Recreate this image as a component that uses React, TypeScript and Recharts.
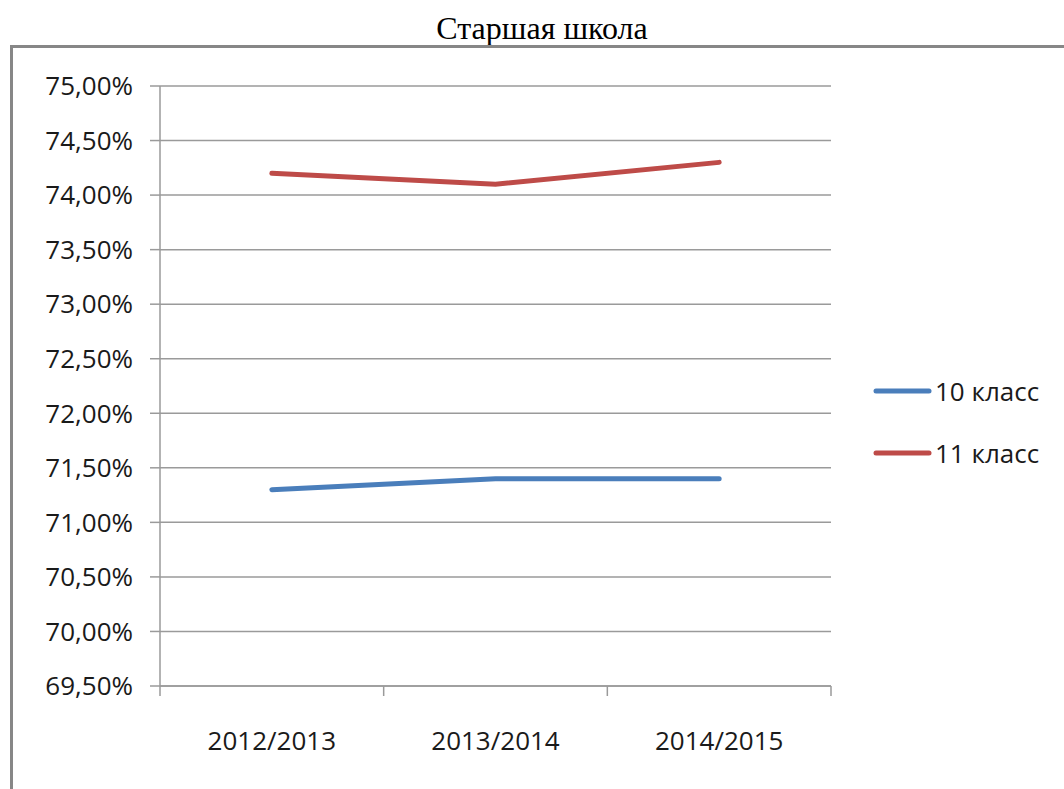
import { LineChart, Line, XAxis, YAxis, CartesianGrid, Legend } from "recharts";

const years = ["2012/2013", "2013/2014", "2014/2015"];
const grade10 = [71.3, 71.4, 71.4];
const grade11 = [74.2, 74.1, 74.3];
const yTicks = [69.5, 70, 70.5, 71, 71.5, 72, 72.5, 73, 73.5, 74, 74.5, 75];
const seriesNames = ["10 класс", "11 класс"];

const data = years.map((year, i) => ({
  year,
  g10: grade10[i],
  g11: grade11[i],
}));

const FONT = "'Open Sans', sans-serif";
const GRID = "#9a9a9a";
const BLUE = "#4a7ebb";
const RED = "#be4b48";

// plot box
const PLOT_LEFT = 160;
const PLOT_RIGHT = 831;
const PLOT_BOTTOM = 686;
const STEP = (PLOT_RIGHT - PLOT_LEFT) / years.length;

const fmt = (v: number) => v.toFixed(2).replace(".", ",") + "%";

const XTick = (props: any) => {
  const { x, payload, index } = props;
  const left = x - STEP / 2;
  const right = x + STEP / 2;
  return (
    <g>
      <line x1={left} x2={left} y1={PLOT_BOTTOM} y2={PLOT_BOTTOM + 10} stroke={GRID} strokeWidth={1.5} />
      {index === years.length - 1 && (
        <line x1={right} x2={right} y1={PLOT_BOTTOM} y2={PLOT_BOTTOM + 10} stroke={GRID} strokeWidth={1.5} />
      )}
      <text
        x={x}
        y={PLOT_BOTTOM + 55}
        dy="0.355em"
        textAnchor="middle"
        fill="#1a1a1a"
        fontSize={26}
        fontFamily={FONT}
      >
        {payload.value}
      </text>
    </g>
  );
};

const CustomLegend = (props: any) => {
  const { payload } = props;
  return (
    <div>
      {payload.map((entry: any, i: number) => (
        <div key={i} style={{ display: "flex", alignItems: "center", height: 62 }}>
          <svg width={60} height={10}>
            <line x1={3} x2={56} y1={5} y2={5} stroke={entry.color} strokeWidth={5} strokeLinecap="round" />
          </svg>
          <span style={{ fontFamily: FONT, fontSize: 26, color: "#1a1a1a", marginLeft: 2 }}>{entry.value}</span>
        </div>
      ))}
    </div>
  );
};

export default function App() {
  return (
    <div
      style={{
        position: "absolute",
        left: 0,
        top: 0,
        width: 1064,
        height: 789,
        overflow: "hidden",
        background: "#fff",
      }}
    >
      <div
        style={{
          position: "absolute",
          left: 0,
          width: 1084,
          top: 10,
          textAlign: "center",
          fontFamily: "'Liberation Serif', serif",
          fontSize: 32,
          color: "#000",
          whiteSpace: "nowrap",
        }}
      >
        Старшая школа
      </div>
      <div
        style={{
          position: "absolute",
          left: 10,
          top: 45,
          width: 1100,
          height: 800,
          border: "3px solid #878787",
          boxSizing: "border-box",
        }}
      />
      <div style={{ position: "absolute", left: 0, top: 0 }}>
        <LineChart
          width={1064}
          height={789}
          data={data}
          margin={{ top: 86, right: 1064 - PLOT_RIGHT, bottom: 0, left: 10 }}
        >
          <CartesianGrid vertical={false} stroke={GRID} strokeWidth={1.5} />
          <XAxis
            dataKey="year"
            padding={{ left: STEP / 2, right: STEP / 2 }}
            height={789 - PLOT_BOTTOM}
            tickLine={false}
            axisLine={{ stroke: GRID, strokeWidth: 1.5 }}
            tick={<XTick />}
            interval={0}
          />
          <YAxis
            width={150}
            domain={[69.5, 75]}
            ticks={yTicks}
            tickFormatter={fmt}
            tickSize={10}
            tickMargin={17}
            axisLine={{ stroke: GRID, strokeWidth: 1.5 }}
            tickLine={{ stroke: GRID, strokeWidth: 1.5 }}
            tick={{ fill: "#1a1a1a", fontSize: 26, fontFamily: FONT }}
            allowDataOverflow
          />
          <Legend
            layout="vertical"
            align="center"
            verticalAlign="middle"
            content={<CustomLegend />}
            wrapperStyle={{ left: 873, top: 360, width: 190 }}
          />
          <Line
            dataKey="g10"
            name={seriesNames[0]}
            stroke={BLUE}
            strokeWidth={5}
            strokeLinecap="round"
            dot={false}
            isAnimationActive={false}
          />
          <Line
            dataKey="g11"
            name={seriesNames[1]}
            stroke={RED}
            strokeWidth={5}
            strokeLinecap="round"
            dot={false}
            isAnimationActive={false}
          />
        </LineChart>
      </div>
    </div>
  );
}
